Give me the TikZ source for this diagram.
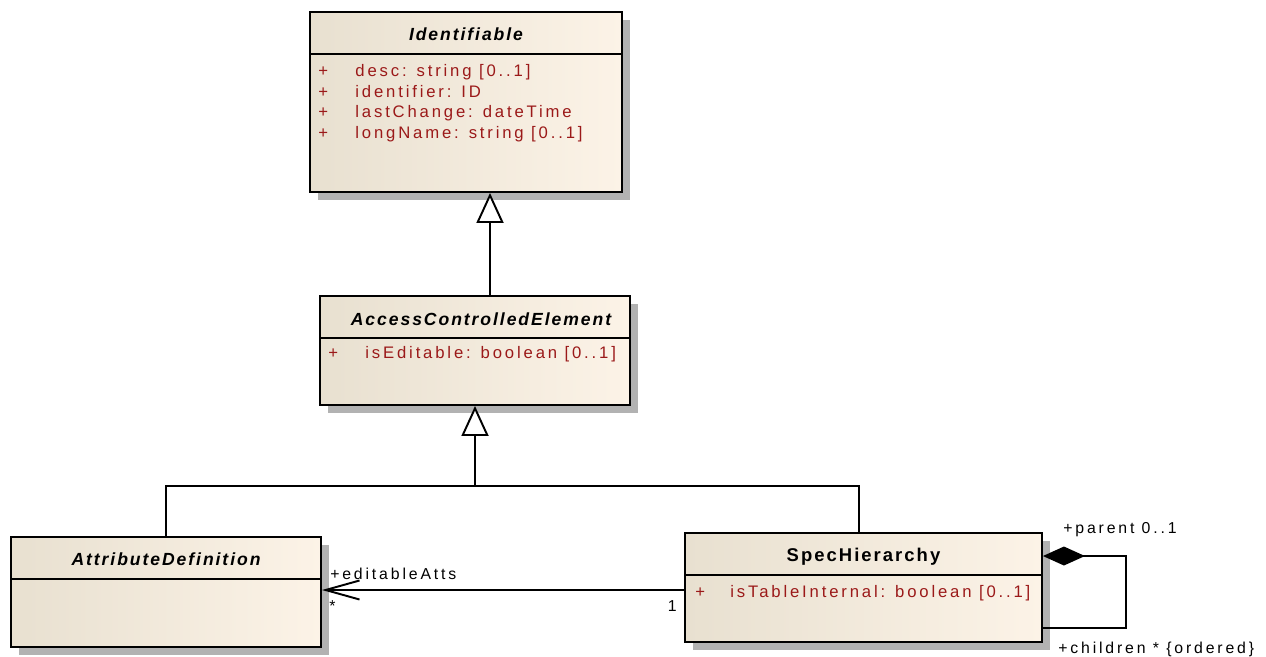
\documentclass[tikz,border=0pt]{standalone}
\usepackage{fontspec}
\setmainfont{Liberation Sans}
\newfontfamily\umlfont[LetterSpace=11]{Liberation Sans}
\newfontfamily\attrfont[LetterSpace=17]{Liberation Sans}
\newfontfamily\rolefont[LetterSpace=18]{Liberation Sans}
\usetikzlibrary{arrows.meta,shadows}
\definecolor{boxleft}{RGB}{232,224,208}
\definecolor{boxright}{RGB}{252,243,231}
\definecolor{attred}{RGB}{155,25,25}
\tikzset{
  classbox/.style={draw=black, line width=1.1pt, left color=boxleft, right color=boxright,
    general shadow={fill=black!30, shadow xshift=0.16cm, shadow yshift=-0.16cm}, inner sep=0pt},
  classname/.style={inner sep=0pt, font=\umlfont\fontsize{10}{12}\selectfont\bfseries\itshape},
  attrs/.style={text=attred, align=left, inner sep=0pt, anchor=north west,
    font=\attrfont\fontsize{9.5}{11.8}\selectfont},
  rolelbl/.style={inner sep=0pt, font=\rolefont\fontsize{9}{11}\selectfont},
  conn/.style={line width=1.1pt},
  gen/.style={conn, -{Triangle[open, fill=white, length=0.6cm, width=0.54cm]}},
}
\begin{document}
\begin{tikzpicture}[x=0.02cm, y=-0.02cm]
  \useasboundingbox (0,0) rectangle (1266,656);

  % classes
  \node[classbox, minimum width=6.24cm, minimum height=3.6cm] (ident) at (466,102) {};
  \node[classbox, minimum width=6.2cm, minimum height=2.18cm] (ace) at (475,350.5) {};
  \node[classbox, minimum width=6.2cm, minimum height=2.2cm] (attdef) at (166,592) {};
  \node[classbox, minimum width=7.14cm, minimum height=2.18cm] (spech) at (863.5,587.5) {};

  \foreach \c in {ident,ace,attdef,spech}
    \draw[conn] ([yshift=-0.86cm]\c.north west) -- ([yshift=-0.86cm]\c.north east);

  \node[classname] (identname) at ([yshift=-0.46cm]ident.north) {Identifiable};
  \node[classname] (acename) at ([xshift=0.12cm,yshift=-0.48cm]ace.north) {AccessControlledElement};
  \node[classname] (attdefname) at ([yshift=-0.46cm]attdef.north) {AttributeDefinition};
  \node[classname, font=\umlfont\fontsize{10.5}{12}\selectfont\bfseries] (spechname) at ([yshift=-0.5cm]spech.north) {SpecHierarchy};

  \node[attrs] (identattrs) at ([xshift=0.18cm,yshift=-1.06cm]ident.north west)
    {\makebox[0.74cm][l]{+}desc: string [0..1]\\
     \makebox[0.74cm][l]{+}identifier: ID\\
     \makebox[0.74cm][l]{+}lastChange: dateTime\\
     \makebox[0.74cm][l]{+}longName: string [0..1]};
  \node[attrs, anchor=base west] (aceattrs) at ([xshift=0.18cm,yshift=-1.26cm]ace.north west)
    {\makebox[0.74cm][l]{+}isEditable: boolean [0..1]};
  \node[attrs, anchor=base west] (spechattrs) at ([xshift=0.22cm,yshift=-1.3cm]spech.north west)
    {\makebox[0.7cm][l]{+}isTableInternal: boolean [0..1]};

  % generalizations
  \draw[gen] ([xshift=0.3cm]ace.north) -- ([xshift=0.3cm]ace.north |- ident.south);
  \coordinate (bus) at ([yshift=-1.61cm]ace.south);
  \draw[gen] (attdef.north) |- (bus) -- (ace.south);
  \draw[conn] ([xshift=-0.09cm]spech.north) |- (bus);

  % association
  \coordinate (asrc) at ([yshift=-0.05cm]spech.west);
  \coordinate (adst) at (asrc -| attdef.east);
  \draw[conn, -{Straight Barb[length=0.68cm, width=0.38cm]}] (asrc) -- (adst);
  \node[rolelbl, anchor=base west] (editroles) at ([xshift=0.16cm,yshift=0.22cm]adst) {+editableAtts};
  \node[rolelbl, anchor=north west] (editmult) at ([xshift=0.14cm,yshift=-0.2cm]adst) {*};
  \node[rolelbl, anchor=north east] (srcmult) at ([xshift=-0.14cm,yshift=-0.2cm]asrc) {1};

  % self composition
  \coordinate (loopa) at ([xshift=1.66cm,yshift=0.63cm]spech.east);
  \coordinate (loopb) at ([xshift=1.66cm,yshift=-0.81cm]spech.east);
  \draw[conn, {Diamond[length=0.84cm, width=0.38cm]}-] (spech.east |- loopa) -- (loopa) -- (loopb) -- (spech.east |- loopb);
  \node[rolelbl, anchor=base west] (parentrole) at ([xshift=0.4cm,yshift=0.46cm]spech.east |- loopa) {+parent 0..1};
  \node[rolelbl, anchor=base west] (childrole) at ([xshift=0.3cm,yshift=-0.5cm]spech.east |- loopb) {+children * \{ordered\}};
\end{tikzpicture}
\end{document}
